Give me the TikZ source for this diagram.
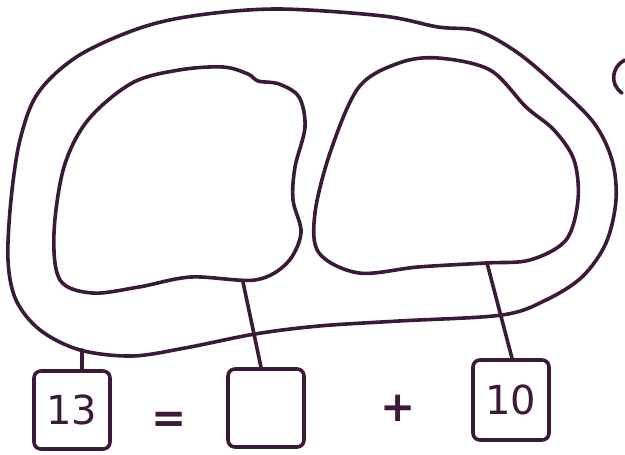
\documentclass[tikz,border=0pt]{standalone}
\usepackage{fontspec}
\setmainfont{DejaVu Sans}
\definecolor{ink}{HTML}{3A1A38}
\begin{document}
\begin{tikzpicture}[x=1pt,y=-1pt,
  line/.style={draw=ink,line width=3.6pt,line cap=round,line join=round},
  numbox/.style={line,rounded corners=7pt,minimum width=76pt,minimum height=78pt,inner sep=0pt,text=ink,font=\fontsize{40}{40}\selectfont},
  sym/.style={text=ink,font=\fontsize{42}{42}\selectfont\bfseries}]
\useasboundingbox (0,0) rectangle (625,455);
% outer whole
\draw[line] plot[smooth cycle,tension=0.55] coordinates {
 (279,9) (383,16) (438,27) (478,31) (518,53) (558,87) (594,123) (612,160) (616,200)
 (606,243) (582,277) (546,300) (502,315) (399,321) (319,326) (255,334)
 (185,348) (132,356) (80,350) (40,330) (16,300) (8,260) (11,200) (20,140) (38,93)
 (78,56) (140,28) (199,15)};
% left part
\draw[line] plot[smooth cycle,tension=0.55] coordinates {
 (223,67) (248,74) (258,81) (279,84) (299,97) (305,127) (295,167) (293,200) (301,233)
 (287,263) (255,280) (191,277) (139,287) (92,293) (60,280) (54,233) (64,167) (88,120)
 (132,83) (179,70)};
% right part
\draw[line] plot[smooth cycle,tension=0.55] coordinates {
 (438,58) (490,70) (526,107) (554,130) (574,160) (578,200) (566,240) (530,260) (486,263)
 (418,267) (359,273) (319,253) (315,213) (331,150) (359,87) (399,63)};
% partial mark at right edge
\draw[line] (625,60) .. controls (612,66) and (609,84) .. (622,93);
% boxes
\node[numbox] (whole) at (72,410) {13};
\node[numbox] (partA) at (266,408) {};
\node[numbox,minimum height=80pt] (partB) at (511,400) {10};
\node[sym] (eq) at (169,422) {=};
\node[sym] (plus) at (398,408) {+};
% connectors
\coordinate (outerbot) at (82,350);
\coordinate (leftbot) at (243,282);
\coordinate (rightbot) at (487,263);
\draw[line] (outerbot) -- (whole.north -| outerbot);
\draw[line] (leftbot) -- (partA.north -| 261,0);
\draw[line] (rightbot) -- (partB.north -| 512,0);
\end{tikzpicture}
\end{document}
